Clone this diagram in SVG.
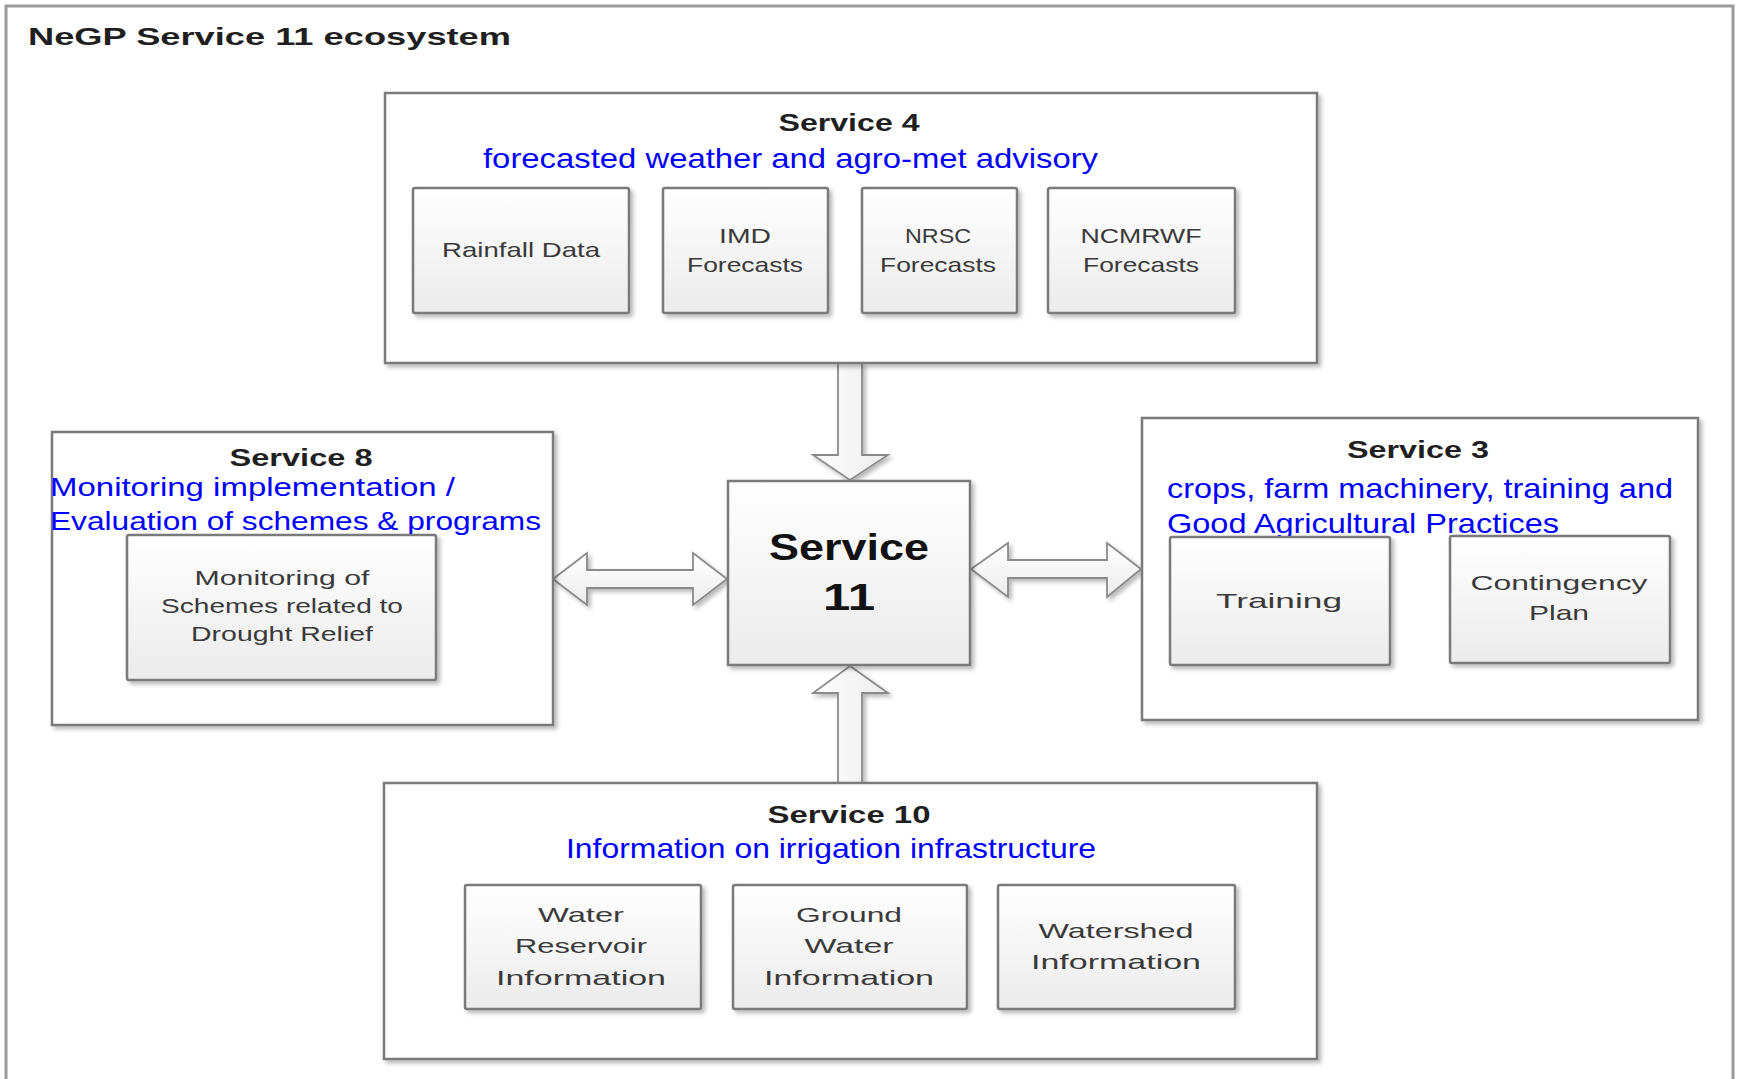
<svg xmlns="http://www.w3.org/2000/svg" width="1738" height="1079" viewBox="0 0 1738 1079">
<defs>
<linearGradient id="boxGrad" x1="0" y1="0" x2="0" y2="1">
<stop offset="0" stop-color="#ffffff"/>
<stop offset="1" stop-color="#ebebeb"/>
</linearGradient>
<linearGradient id="arrGradV" x1="0" y1="0" x2="1" y2="0">
<stop offset="0" stop-color="#ffffff"/>
<stop offset="1" stop-color="#ececec"/>
</linearGradient>
<linearGradient id="arrGradH" x1="0" y1="0" x2="0" y2="1">
<stop offset="0" stop-color="#ffffff"/>
<stop offset="1" stop-color="#ececec"/>
</linearGradient>
<filter id="shadow" x="-10%" y="-10%" width="130%" height="130%">
<feDropShadow dx="3" dy="3" stdDeviation="2" flood-color="#000" flood-opacity="0.28"/>
</filter>
</defs>
<style>
.frame{fill:none;stroke:#9a9a9a;stroke-width:3}
.group{fill:#ffffff;stroke:#7a7a7a;stroke-width:2.5}
.box{fill:url(#boxGrad);stroke:#7a7a7a;stroke-width:2.5}
.arrowV{fill:url(#arrGradV);stroke:#8a8a8a;stroke-width:1.8;stroke-linejoin:miter}
.arrowH{fill:url(#arrGradH);stroke:#8a8a8a;stroke-width:1.8;stroke-linejoin:miter}
.title{font-family:"Liberation Sans",Arial,sans-serif;font-weight:bold;font-size:24px;fill:#1f1f1f}
.head{font-family:"Liberation Sans",Arial,sans-serif;font-weight:bold;font-size:24px;fill:#1f1f1f;text-anchor:middle}
.big{font-family:"Liberation Sans",Arial,sans-serif;font-weight:bold;font-size:37px;fill:#111;text-anchor:middle}
.lbl{font-family:"Liberation Sans",Arial,sans-serif;font-size:21px;fill:#3a3a3a;text-anchor:middle}
.blue{font-family:"Liberation Sans",Arial,sans-serif;font-size:28px;fill:#0000ff}
.blue2{font-family:"Liberation Sans",Arial,sans-serif;font-size:26px;fill:#0000ff}
</style>
<rect x="0" y="0" width="1738" height="1079" fill="#ffffff"/>
<rect class="frame" x="6" y="6" width="1727" height="1090"/>
<text class="title" x="28" y="45" textLength="483" lengthAdjust="spacingAndGlyphs">NeGP Service 11 ecosystem</text>

<g id="connectors">
<polygon class="arrowV" filter="url(#shadow)" points="838,363 862,363 862,455 888,455 850,480 813,455 838,455"/>
<polygon class="arrowV" filter="url(#shadow)" points="850,666 888,693 862,693 862,783 838,783 838,693 813,693"/>
<polygon class="arrowH" filter="url(#shadow)" points="553,579 587,553 587,570 693,570 693,553 727,579 693,605 693,588 587,588 587,605"/>
<polygon class="arrowH" filter="url(#shadow)" points="971,569 1008,543 1008,560 1107,560 1107,543 1141,569 1107,597 1107,578 1008,578 1008,597"/>
</g>

<g id="service4">
<rect class="group" filter="url(#shadow)" x="385" y="93" width="932" height="270"/>
<text class="head" x="849" y="131" textLength="141" lengthAdjust="spacingAndGlyphs">Service 4</text>
<text class="blue" x="483" y="168" textLength="615" lengthAdjust="spacingAndGlyphs">forecasted weather and agro-met advisory</text>
</g>
<g id="rainfall">
<rect class="box" filter="url(#shadow)" x="413" y="188" width="216" height="125" rx="2"/>
<text class="lbl" x="521" y="257" textLength="158" lengthAdjust="spacingAndGlyphs">Rainfall Data</text>
</g>
<g id="imd">
<rect class="box" filter="url(#shadow)" x="663" y="188" width="165" height="125" rx="2"/>
<text class="lbl" x="745" y="243" textLength="52" lengthAdjust="spacingAndGlyphs">IMD</text>
<text class="lbl" x="745" y="272" textLength="116" lengthAdjust="spacingAndGlyphs">Forecasts</text>
</g>
<g id="nrsc">
<rect class="box" filter="url(#shadow)" x="862" y="188" width="155" height="125" rx="2"/>
<text class="lbl" x="938" y="243" textLength="66" lengthAdjust="spacingAndGlyphs">NRSC</text>
<text class="lbl" x="938" y="272" textLength="116" lengthAdjust="spacingAndGlyphs">Forecasts</text>
</g>
<g id="ncmrwf">
<rect class="box" filter="url(#shadow)" x="1048" y="188" width="187" height="125" rx="2"/>
<text class="lbl" x="1141" y="243" textLength="121" lengthAdjust="spacingAndGlyphs">NCMRWF</text>
<text class="lbl" x="1141" y="272" textLength="116" lengthAdjust="spacingAndGlyphs">Forecasts</text>
</g>

<g id="service11">
<rect class="box" filter="url(#shadow)" x="728" y="481" width="242" height="184"/>
<text class="big" x="849" y="560" textLength="160" lengthAdjust="spacingAndGlyphs">Service</text>
<text class="big" x="849" y="610" textLength="52" lengthAdjust="spacingAndGlyphs">11</text>
</g>

<g id="service8">
<rect class="group" filter="url(#shadow)" x="52" y="432" width="501" height="293"/>
<text class="head" x="301" y="466" textLength="143" lengthAdjust="spacingAndGlyphs">Service 8</text>
<text class="blue2" x="50" y="496" textLength="405" lengthAdjust="spacingAndGlyphs">Monitoring implementation /</text>
<text class="blue2" x="50" y="530" textLength="491" lengthAdjust="spacingAndGlyphs">Evaluation of schemes &amp; programs</text>
</g>
<g id="monitoring">
<rect class="box" filter="url(#shadow)" x="127" y="535" width="309" height="145" rx="2"/>
<text class="lbl" x="282" y="585" textLength="175" lengthAdjust="spacingAndGlyphs">Monitoring of</text>
<text class="lbl" x="282" y="613" textLength="242" lengthAdjust="spacingAndGlyphs">Schemes related to</text>
<text class="lbl" x="282" y="641" textLength="182" lengthAdjust="spacingAndGlyphs">Drought Relief</text>
</g>

<g id="service3">
<rect class="group" filter="url(#shadow)" x="1142" y="418" width="556" height="302"/>
<text class="head" x="1418" y="458" textLength="142" lengthAdjust="spacingAndGlyphs">Service 3</text>
<text class="blue" x="1167" y="498" textLength="506" lengthAdjust="spacingAndGlyphs">crops, farm machinery, training and</text>
<text class="blue" x="1167" y="533" textLength="392" lengthAdjust="spacingAndGlyphs">Good Agricultural Practices</text>
</g>
<g id="training">
<rect class="box" filter="url(#shadow)" x="1170" y="537" width="220" height="128" rx="2"/>
<text class="lbl" x="1279" y="608" textLength="126" lengthAdjust="spacingAndGlyphs">Training</text>
</g>
<g id="contingency">
<rect class="box" filter="url(#shadow)" x="1450" y="536" width="220" height="127" rx="2"/>
<text class="lbl" x="1559" y="590" textLength="177" lengthAdjust="spacingAndGlyphs">Contingency</text>
<text class="lbl" x="1559" y="620" textLength="60" lengthAdjust="spacingAndGlyphs">Plan</text>
</g>

<g id="service10">
<rect class="group" filter="url(#shadow)" x="384" y="783" width="933" height="276"/>
<text class="head" x="849" y="823" textLength="163" lengthAdjust="spacingAndGlyphs">Service 10</text>
<text class="blue" x="566" y="858" textLength="530" lengthAdjust="spacingAndGlyphs">Information on irrigation infrastructure</text>
</g>
<g id="reservoir">
<rect class="box" filter="url(#shadow)" x="465" y="885" width="236" height="124" rx="2"/>
<text class="lbl" x="581" y="922" textLength="86" lengthAdjust="spacingAndGlyphs">Water</text>
<text class="lbl" x="581" y="953" textLength="132" lengthAdjust="spacingAndGlyphs">Reservoir</text>
<text class="lbl" x="581" y="985" textLength="170" lengthAdjust="spacingAndGlyphs">Information</text>
</g>
<g id="groundwater">
<rect class="box" filter="url(#shadow)" x="733" y="885" width="234" height="124" rx="2"/>
<text class="lbl" x="849" y="922" textLength="106" lengthAdjust="spacingAndGlyphs">Ground</text>
<text class="lbl" x="849" y="953" textLength="89" lengthAdjust="spacingAndGlyphs">Water</text>
<text class="lbl" x="849" y="985" textLength="170" lengthAdjust="spacingAndGlyphs">Information</text>
</g>
<g id="watershed">
<rect class="box" filter="url(#shadow)" x="998" y="885" width="237" height="124" rx="2"/>
<text class="lbl" x="1116" y="938" textLength="155" lengthAdjust="spacingAndGlyphs">Watershed</text>
<text class="lbl" x="1116" y="969" textLength="170" lengthAdjust="spacingAndGlyphs">Information</text>
</g>
</svg>
